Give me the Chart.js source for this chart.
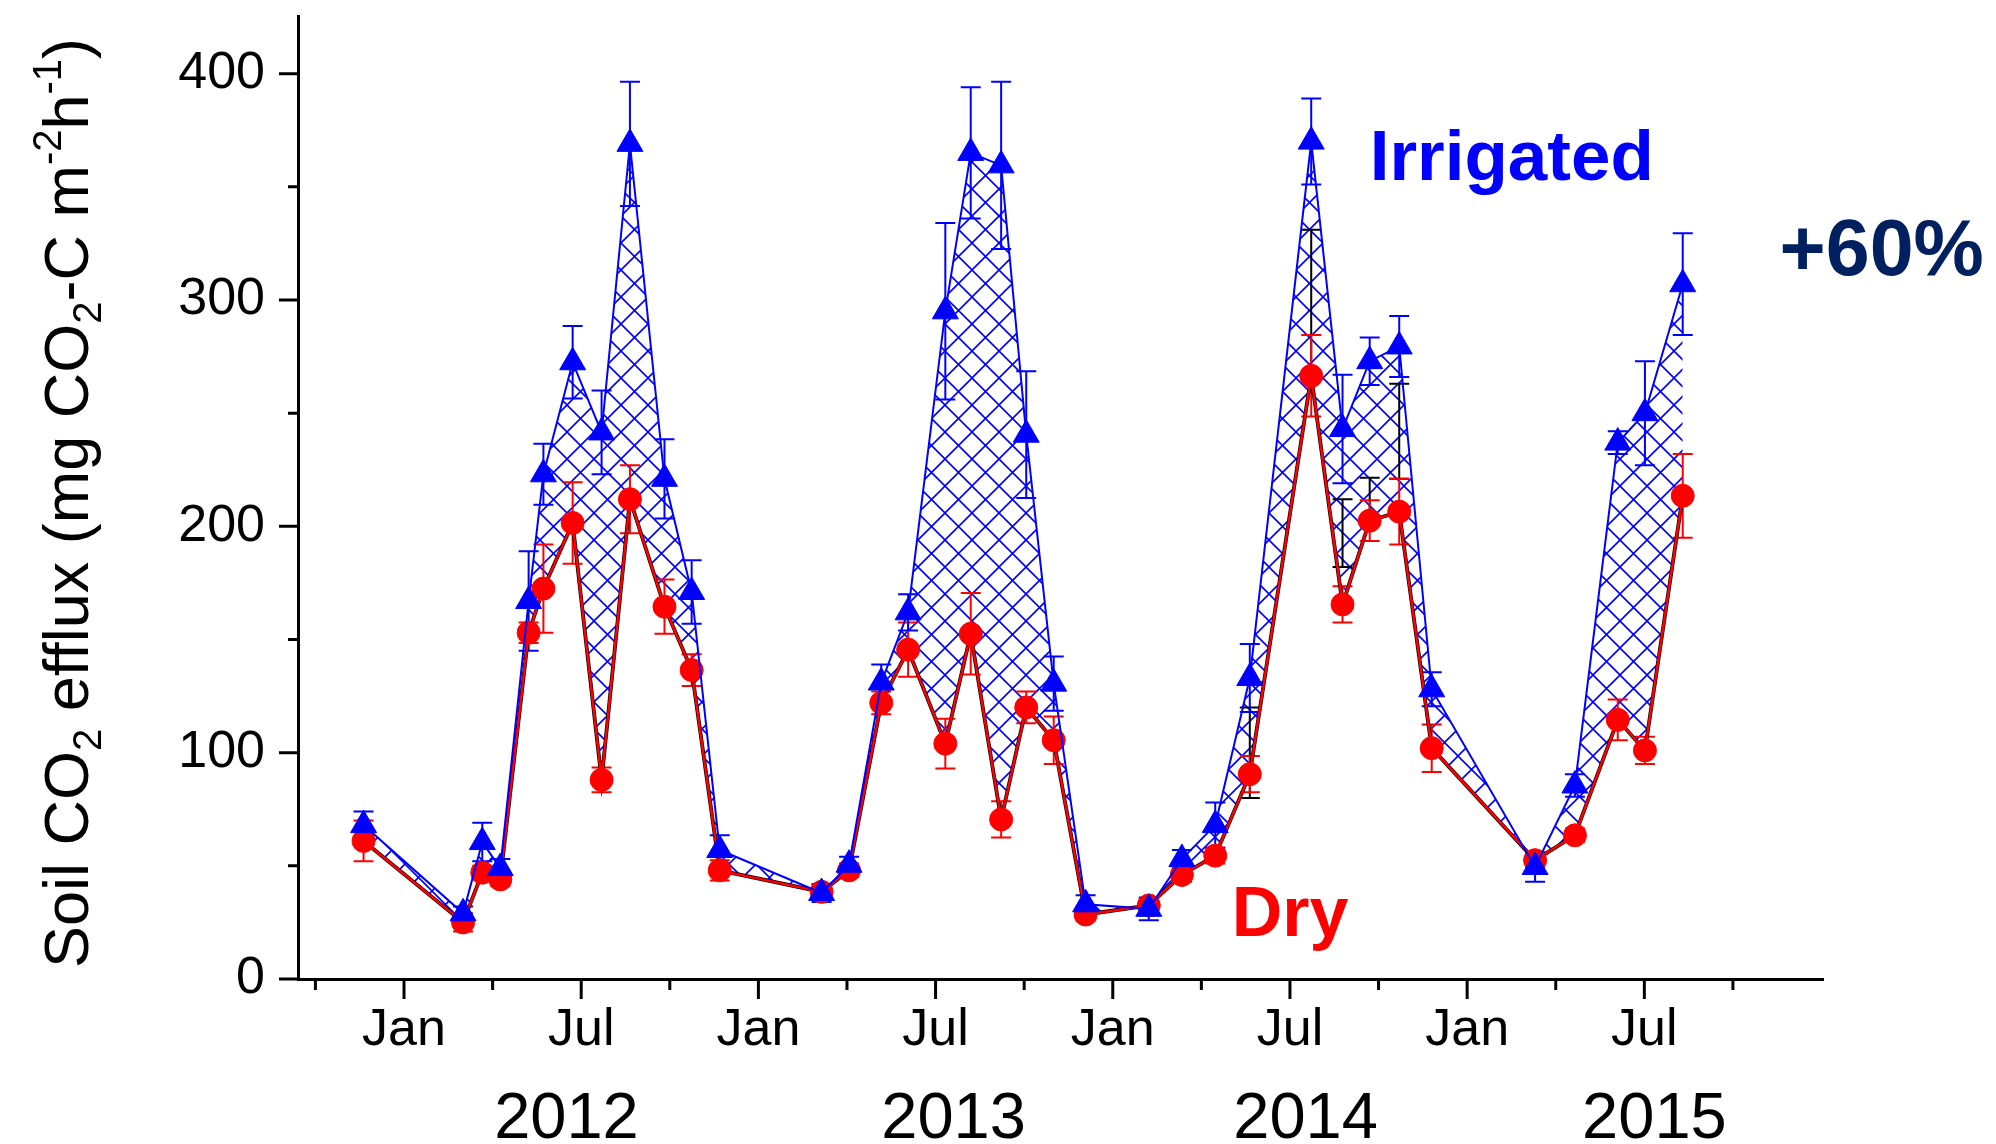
<!DOCTYPE html>
<html>
<head>
<meta charset="utf-8">
<script src="https://cdn.jsdelivr.net/npm/chart.js@4/dist/chart.umd.min.js"></script>
<style>
  html, body { margin: 0; padding: 0; background: #fff; }
  canvas { display: block; }
</style>
</head>
<body>
<canvas id="chart" width="1996" height="1144"></canvas>
<script>
// sampling dates, in months counted from Jan 2012
const months = [-1.37, 2.0, 2.65, 3.26, 4.22, 4.72, 5.71, 6.69, 7.65, 8.82, 9.74, 10.69,
  14.14, 15.07, 16.16, 17.07, 18.33, 19.19, 20.22, 21.07, 22.0, 23.08,
  25.22, 26.34, 27.47, 28.64, 30.72, 31.78, 32.7, 33.7, 34.8,
  38.3, 39.65, 41.1, 42.02, 43.3];

const irrigated = [68, 29, 60.5, 49, 167, 223, 272.5, 241.5, 369, 221, 171, 57,
  38, 50.5, 131, 162, 295, 365, 359.5, 240.5, 130.5, 33,
  31, 53, 68, 133, 370, 243, 273, 279.5, 128,
  49.5, 85.5, 237, 250, 307];
const irrigatedErr = [6, 3, 8.5, 4, 22, 13.5, 16, 18.5, 27.5, 17.5, 14, 6.5,
  4, 3.5, 8, 8, 39, 29, 37, 28, 12, 4,
  5, 4, 10, 15, 19, 24, 10.5, 13.5, 7.5,
  6.5, 5, 5, 23, 22.5];

const dry = [61, 25, 47, 44, 153, 172.5, 201.5, 88, 212, 164.5, 136.5, 48,
  38.5, 48, 122, 145.5, 104, 152.5, 70.5, 120, 105.5, 28.5,
  32.5, 46, 54.5, 90.5, 266.5, 165.5, 202.5, 206.5, 102,
  52.5, 63.5, 114.5, 101, 213.5];
const dryErr = [9, 4, 3, 3, 4.5, 19.5, 18, 5.5, 15, 12, 7, 4.5,
  3, 3, 5, 12, 11, 18, 8, 7, 10.5, 3,
  3, 3, 3.5, 8, 18, 8, 9, 14.5, 10.5,
  3, 3, 9, 6, 18.5];

// extra black error bars seen in 2014 only
const blackMean = [null, null, null, null, null, null, null, null, null, null, null, null,
  null, null, null, null, null, null, null, null, null, null,
  null, null, null, 100, 299, 197, 212, 242, null,
  null, null, null, null, null];
const blackErr = [null, null, null, null, null, null, null, null, null, null, null, null,
  null, null, null, null, null, null, null, null, null, null,
  null, null, null, 20, 32, 15, 9.5, 21, null,
  null, null, null, null, null];

const yTickValues = [0, 100, 200, 300, 400];
const yMinorTicks = [50, 150, 250, 350];
const monthTickValues = [0, 6, 12, 18, 24, 30, 36, 42];
const monthTickLabels = ['Jan', 'Jul', 'Jan', 'Jul', 'Jan', 'Jul', 'Jan', 'Jul'];
const quarterTicks = [-3, 3, 9, 15, 21, 27, 33, 39, 45];
const years = ['2012', '2013', '2014', '2015'];
const yearCenters = [5.5, 18.61, 30.53, 42.34];

const FONT = '"Liberation Sans", Arial, sans-serif';

const notes = [
  { text: 'Irrigated', x: 32.7, y: 353, color: '#0000ff', size: 71 },
  { text: '+60%', x: 46.58, y: 311, color: '#002060', size: 79 },
  { text: 'Dry', x: 28.03, y: 18.8, color: '#ff0000', size: 70 },
];

const titleParts = [
  ['Soil CO', 0], ['2', 1], [' efflux (mg CO', 0], ['2', 1], ['-C m', 0],
  ['-2', -1], ['h', 0], ['-1', -1], [')', 0],
];

const ctx = document.getElementById('chart').getContext('2d');

function crossHatch(color) {
  const s = 27;
  const c = document.createElement('canvas');
  c.width = s; c.height = s;
  const g = c.getContext('2d');
  g.strokeStyle = color;
  g.lineWidth = 1.6;
  g.beginPath();
  g.moveTo(-2, -2); g.lineTo(s + 2, s + 2);
  g.moveTo(s + 2, -2); g.lineTo(-2, s + 2);
  g.stroke();
  return ctx.createPattern(c, 'repeat');
}

const toPoints = (ys) => months.map((m, i) => ({ x: m, y: ys[i] }));

const errorBars = {
  id: 'errorBars',
  beforeDatasetsDraw(chart) {
    const { ctx, scales: { x, y } } = chart;
    const sets = [[blackMean, blackErr, '#000000'], [dry, dryErr, '#ff0000'], [irrigated, irrigatedErr, '#0000ff']];
    ctx.save();
    ctx.lineWidth = 2;
    sets.forEach(([vals, errs, color]) => {
      ctx.strokeStyle = color;
      ctx.beginPath();
      vals.forEach((v, i) => {
        if (v == null) return;
        const px = x.getPixelForValue(months[i]);
        const top = y.getPixelForValue(v + errs[i]);
        const bot = y.getPixelForValue(v - errs[i]);
        ctx.moveTo(px, top); ctx.lineTo(px, bot);
        ctx.moveTo(px - 10, top); ctx.lineTo(px + 10, top);
        ctx.moveTo(px - 10, bot); ctx.lineTo(px + 10, bot);
      });
      ctx.stroke();
    });
    ctx.restore();
  }
};

const axisTicks = {
  id: 'axisTicks',
  afterDraw(chart) {
    const { ctx, scales: { x, y }, chartArea: a } = chart;
    ctx.save();
    ctx.strokeStyle = '#000';
    ctx.lineWidth = 3;
    ctx.beginPath();
    monthTickValues.forEach(v => { const px = x.getPixelForValue(v); ctx.moveTo(px, a.bottom); ctx.lineTo(px, a.bottom + 20); });
    quarterTicks.forEach(v => { const px = x.getPixelForValue(v); ctx.moveTo(px, a.bottom); ctx.lineTo(px, a.bottom + 11); });
    yTickValues.forEach(v => { const py = y.getPixelForValue(v); ctx.moveTo(a.left, py); ctx.lineTo(a.left - 19, py); });
    yMinorTicks.forEach(v => { const py = y.getPixelForValue(v); ctx.moveTo(a.left, py); ctx.lineTo(a.left - 10, py); });
    ctx.stroke();
    ctx.restore();
  }
};

const textLayer = {
  id: 'textLayer',
  afterDraw(chart) {
    const { ctx, scales: { x, y }, chartArea: a } = chart;
    ctx.save();
    // year row
    ctx.fillStyle = '#000';
    ctx.font = '65px ' + FONT;
    ctx.textAlign = 'center';
    ctx.textBaseline = 'alphabetic';
    years.forEach((t, i) => ctx.fillText(t, x.getPixelForValue(yearCenters[i]), 1138));

    // in-plot notes
    ctx.textAlign = 'left';
    notes.forEach(n => {
      ctx.fillStyle = n.color;
      ctx.font = 'bold ' + n.size + 'px ' + FONT;
      ctx.fillText(n.text, x.getPixelForValue(n.x), y.getPixelForValue(n.y));
    });

    // y axis title with sub/superscripts
    const big = 63, small = 40;
    let total = 0;
    titleParts.forEach(([t, k]) => {
      ctx.font = (k ? small : big) + 'px ' + FONT;
      total += ctx.measureText(t).width;
    });
    ctx.translate(88, 503);
    ctx.rotate(-Math.PI / 2);
    ctx.fillStyle = '#000';
    let pos = -total / 2;
    titleParts.forEach(([t, k]) => {
      ctx.font = (k ? small : big) + 'px ' + FONT;
      const dy = k === 1 ? 13 : (k === -1 ? -27 : 0);
      ctx.fillText(t, pos, dy);
      pos += ctx.measureText(t).width;
    });
    ctx.restore();
  }
};

new Chart(ctx, {
  type: 'line',
  data: {
    datasets: [
      {
        label: 'Irrigated',
        data: toPoints(irrigated),
        order: 0,
        borderColor: '#0000ff',
        borderWidth: 2,
        backgroundColor: crossHatch('#0000ff'),
        fill: 1,
        pointStyle: 'triangle',
        pointRadius: 15,
        pointBackgroundColor: '#0000ff',
        pointBorderColor: '#0000ff',
        pointBorderWidth: 1,
      },
      {
        label: 'Dry',
        data: toPoints(dry),
        order: 1,
        borderColor: '#ff0000',
        borderWidth: 2.5,
        fill: false,
        pointStyle: 'circle',
        pointRadius: 11.5,
        pointBackgroundColor: '#ff0000',
        pointBorderColor: '#ff0000',
        pointBorderWidth: 1,
      },
      {
        label: 'Dry outline',
        data: toPoints(dry),
        order: 2,
        borderColor: '#000000',
        borderWidth: 3.8,
        fill: false,
        pointRadius: 0,
      }
    ]
  },
  options: {
    responsive: false,
    animation: false,
    devicePixelRatio: 1,
    layout: { padding: { top: 12, right: 173, bottom: 0, left: 0 } },
    plugins: {
      legend: { display: false },
      tooltip: { enabled: false },
      filler: { drawTime: 'beforeDatasetsDraw' }
    },
    scales: {
      x: {
        type: 'linear',
        min: -3.59,
        max: 48.05,
        grid: { display: false, drawTicks: false },
        border: { display: true, color: '#000', width: 3 },
        ticks: {
          font: { family: FONT, size: 52 },
          color: '#000',
          padding: 20,
          autoSkip: false,
          maxRotation: 0,
          callback: (v) => {
            const i = monthTickValues.indexOf(v);
            return i >= 0 ? monthTickLabels[i] : '';
          }
        },
        afterBuildTicks: (s) => { s.ticks = monthTickValues.map(v => ({ value: v })); },
        afterFit: (s) => { s.height = 165; s.paddingLeft = 0; s.paddingRight = 0; }
      },
      y: {
        min: 0,
        max: 425.5,
        grid: { display: false, drawTicks: false },
        border: { display: true, color: '#000', width: 3 },
        ticks: {
          font: { family: FONT, size: 52 },
          color: '#000',
          padding: 33
        },
        afterBuildTicks: (s) => { s.ticks = yTickValues.map(v => ({ value: v })); },
        afterFit: (s) => { s.width = 298; s.paddingTop = 0; s.paddingBottom = 0; }
      }
    }
  },
  plugins: [errorBars, axisTicks, textLayer]
});
</script>
</body>
</html>
